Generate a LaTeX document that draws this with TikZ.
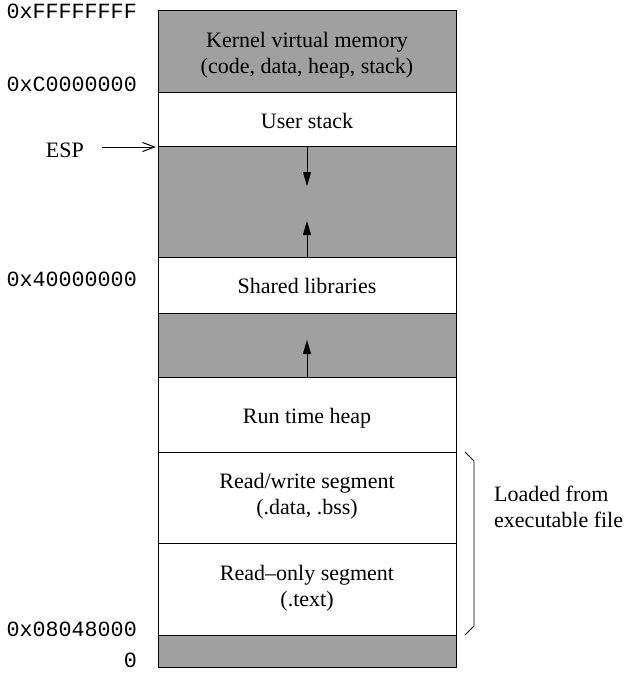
\documentclass[tikz,border=0pt]{standalone}
\usepackage{fontspec}
\setmainfont{Liberation Serif}
\setmonofont{Liberation Mono}
\usetikzlibrary{arrows.meta}
\definecolor{shade}{RGB}{160,160,160}
\tikzset{
  region/.style={draw=black, line width=1pt},
  shaded/.style={region, fill=shade},
  plain/.style={region, fill=white},
  lbl/.style={font=\fontsize{22}{26}\selectfont, align=center, inner sep=0pt, anchor=base},
  addr/.style={font=\ttfamily\fontsize{21.7}{26}\selectfont, anchor=base east, inner sep=0pt},
  growarrow/.style={line width=1pt, -{Triangle[length=14pt,width=8pt]}},
  ptr/.style={line width=1pt, -{Straight Barb[length=12pt,width=9pt]}},
}
\begin{document}
\begin{tikzpicture}[x=1pt,y=-1pt]
\useasboundingbox (0,0) rectangle (624,673);
% regions
\draw[shaded] (158,10) rectangle (456,92);
\draw[plain]  (158,92) rectangle (456,146);
\draw[shaded] (158,146) rectangle (456,257);
\draw[plain]  (158,257) rectangle (456,313);
\draw[shaded] (158,313) rectangle (456,377);
\draw[plain]  (158,377) rectangle (456,452);
\draw[plain]  (158,452) rectangle (456,543);
\draw[plain]  (158,543) rectangle (456,635);
\draw[shaded] (158,635) rectangle (456,667);
% region labels (base = baseline of last line)
\node[lbl] (kernel) at (307,73) {Kernel virtual memory\\(code, data, heap, stack)};
\node[lbl] (ustack) at (307,128) {User stack};
\node[lbl] (shlib) at (307,293) {Shared libraries};
\node[lbl] (heap) at (307,423) {Run time heap};
\node[lbl] (rw) at (307,514) {Read/write segment\\(.data, .bss)};
\node[lbl] (ro) at (307,606) {Read--only segment\\(.text)};
% growth arrows
\coordinate (s1) at (307,146);
\coordinate (s2) at (307,186);
\coordinate (m1) at (307,257);
\coordinate (m2) at (307,221);
\coordinate (h1) at (307,377);
\coordinate (h2) at (307,340);
\draw[growarrow] (s1) -- (s2);
\draw[growarrow] (m1) -- (m2);
\draw[growarrow] (h1) -- (h2);
% addresses
\node[addr] (aF) at (137,18) {0xFFFFFFFF};
\node[addr] (aC) at (137,91) {0xC0000000};
\node[addr] (a4) at (137,286) {0x40000000};
\node[addr] (a08) at (137,636) {0x08048000};
\node[addr] (a0) at (137,667) {0};
% ESP
\node[lbl, anchor=base east] (esp) at (84,157) {ESP};
\coordinate (espA) at (102,147);
\coordinate (espB) at (156,147);
\draw[ptr] (espA) -- (espB);
% brace
\coordinate (b1) at (465,452);
\coordinate (b2) at (474,461);
\coordinate (b3) at (474,626);
\coordinate (b4) at (465,635);
\draw[line width=0.8pt] (b1) -- (b2) -- (b3) -- (b4);
\node[lbl, align=left, anchor=base west] (loaded) at (494,527) {Loaded from\\executable file};
\end{tikzpicture}
\end{document}
